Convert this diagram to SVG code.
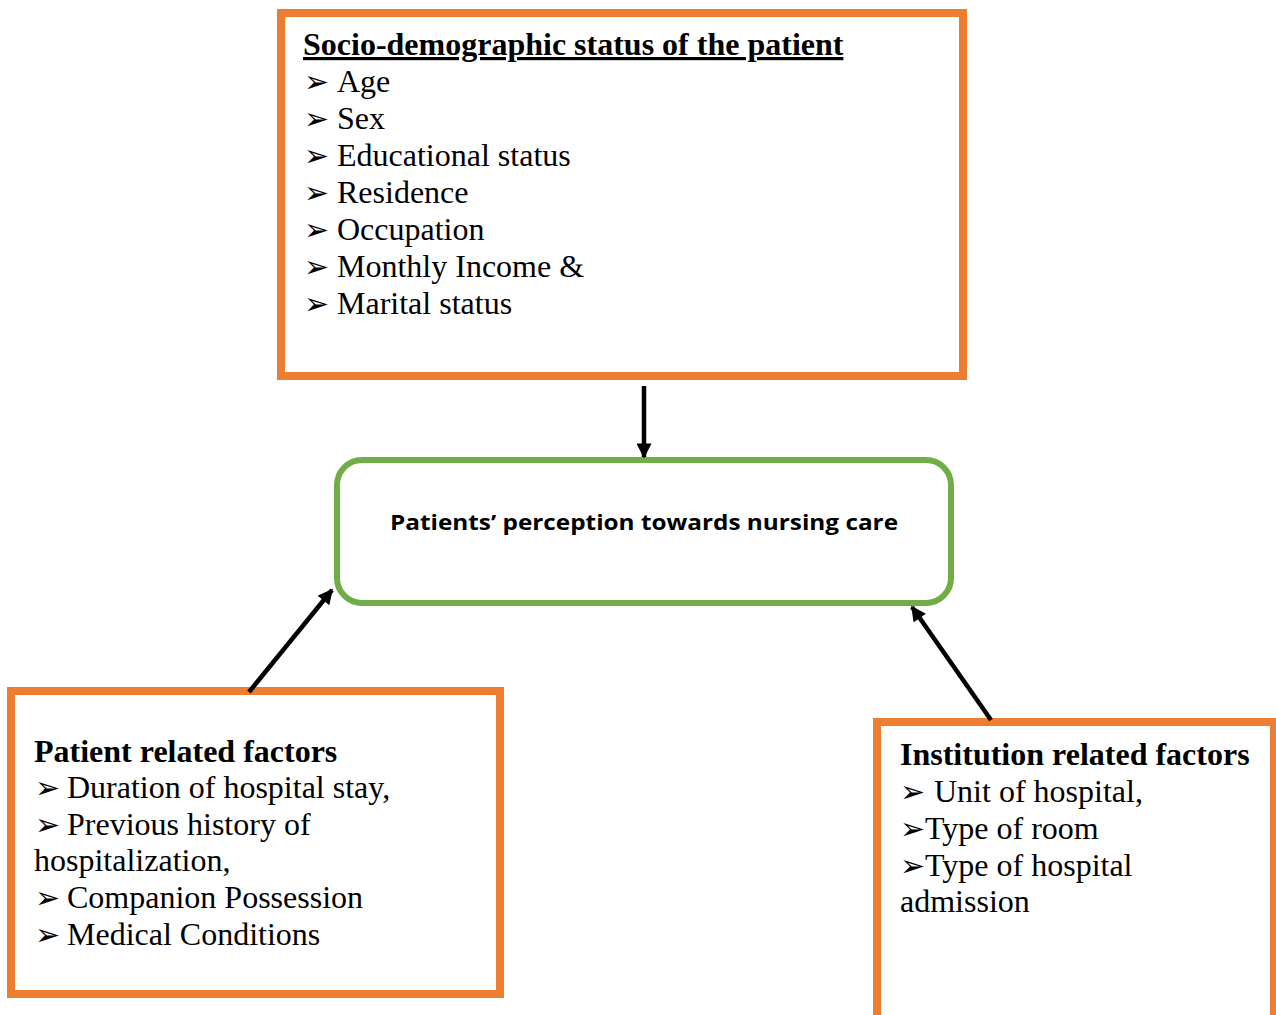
<svg xmlns="http://www.w3.org/2000/svg" width="1276" height="1015" viewBox="0 0 1276 1015">
<style>
.box{fill:#fff;stroke:#ED7D31;stroke-width:8}
.core{fill:#fff;stroke:#70AD47;stroke-width:6}
.t{font-family:"Liberation Serif","Times New Roman",serif;font-size:32px;fill:#000}
.b{font-weight:bold}
.bl{font-family:"DejaVu Sans",sans-serif;font-size:30px;fill:#000}
.c{font-family:"Open Sans","Noto Sans",sans-serif;font-weight:bold;font-size:22px;fill:#000}
.conn{stroke:#000;stroke-width:4.5;fill:none}
</style>
<defs>
<marker id="ah" viewBox="0 0 10 10" refX="9" refY="5" markerWidth="16" markerHeight="15" markerUnits="userSpaceOnUse" orient="auto">
<path d="M0,0 L10,5 L0,10 z" fill="#000"/>
</marker>
</defs>
<rect width="1276" height="1015" fill="#fff"/>
<g id="socio">
<rect class="box" x="281" y="13" width="682" height="363"/>
<text class="t b" x="303" y="55" text-decoration="underline">Socio-demographic status of the patient</text>
<g class="bl">
<text x="304" y="92">➢</text>
<text x="304" y="129">➢</text>
<text x="304" y="166">➢</text>
<text x="304" y="203">➢</text>
<text x="304" y="240">➢</text>
<text x="304" y="277">➢</text>
<text x="304" y="314">➢</text>
</g>
<text class="t" x="337" y="92">Age</text>
<text class="t" x="337" y="129">Sex</text>
<text class="t" x="337" y="166">Educational status</text>
<text class="t" x="337" y="203">Residence</text>
<text class="t" x="337" y="240">Occupation</text>
<text class="t" x="337" y="277">Monthly Income &amp;</text>
<text class="t" x="337" y="314">Marital status</text>
</g>
<g id="perception">
<rect class="core" x="337" y="460" width="614" height="143" rx="25" ry="25"/>
<text class="c" x="390" y="530" textLength="508" lengthAdjust="spacingAndGlyphs">Patients’ perception towards nursing care</text>
</g>
<g id="patient">
<rect class="box" x="11" y="691" width="489" height="303"/>
<text class="t b" x="34" y="762">Patient related factors</text>
<g class="bl">
<text x="35" y="798">➢</text>
<text x="35" y="835">➢</text>
<text x="35" y="908">➢</text>
<text x="35" y="945">➢</text>
</g>
<text class="t" x="67" y="798">Duration of hospital stay,</text>
<text class="t" x="67" y="835">Previous history of</text>
<text class="t" x="34" y="871">hospitalization,</text>
<text class="t" x="67" y="908">Companion Possession</text>
<text class="t" x="67" y="945">Medical Conditions</text>
</g>
<g id="institution">
<rect class="box" x="877" y="722" width="397" height="310"/>
<text class="t b" x="900" y="765">Institution related factors</text>
<g class="bl">
<text x="900" y="802">➢</text>
<text x="900" y="839">➢</text>
<text x="900" y="876">➢</text>
</g>
<text class="t" x="934" y="802">Unit of hospital,</text>
<text class="t" x="925" y="839">Type of room</text>
<text class="t" x="925" y="876">Type of hospital</text>
<text class="t" x="900" y="912">admission</text>
</g>
<g id="connectors">
<line class="conn" x1="644" y1="386" x2="644" y2="457" marker-end="url(#ah)"/>
<line class="conn" x1="249" y1="692" x2="332" y2="590" marker-end="url(#ah)"/>
<line class="conn" x1="991" y1="720" x2="912" y2="607" marker-end="url(#ah)"/>
</g>
</svg>
